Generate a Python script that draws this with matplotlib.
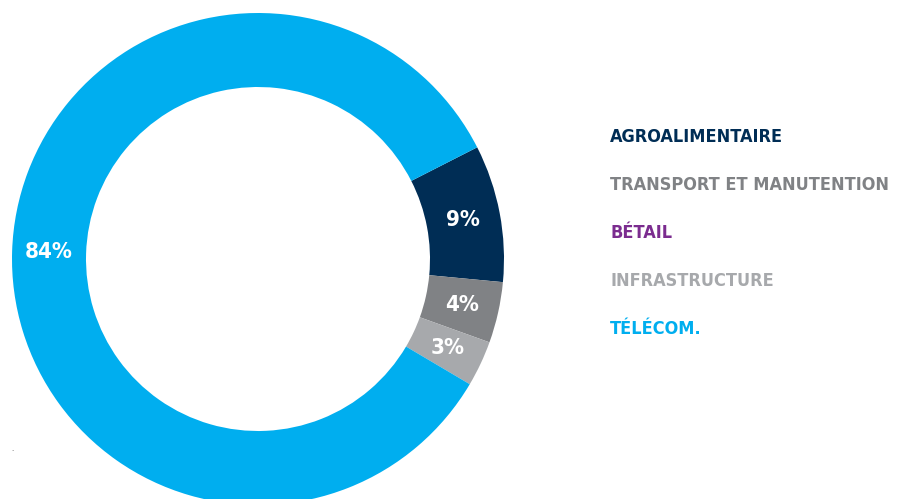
import matplotlib
matplotlib.use('Agg')
import matplotlib.pyplot as plt

# données
secteurs = ['AGROALIMENTAIRE', 'TRANSPORT ET MANUTENTION', 'BÉTAIL', 'INFRASTRUCTURE', 'TÉLÉCOM.']
parts = [9, 4, 0, 3, 84]
couleurs = ['#002d55', '#808285', '#7b2c8f', '#a7a9ac', '#00aeef']

plt.rcParams['font.family'] = ['DejaVu Sans']
plt.rcParams['font.stretch'] = 'condensed'

fig = plt.figure(figsize=(8.97, 4.99), dpi=100)
ax = fig.add_axes([0, 0, 1, 1])

# anneau
wedges, _, autotexts = ax.pie(
    parts, colors=couleurs, startangle=27, counterclock=False,
    center=(258, 240), radius=246,
    wedgeprops=dict(width=74, linewidth=0),
    autopct=lambda p: f'{p:.0f}%' if p > 0 else '',
    pctdistance=0.85,
    textprops=dict(color='white', fontsize=16, fontweight='semibold',
                   fontstretch='condensed'))

# légende en texte
for i, (nom, c) in enumerate(zip(secteurs, couleurs)):
    ax.text(610, 499 - 137 - i * 48, nom, color=c, fontsize=13,
            fontweight='bold', fontstretch='condensed', va='center', ha='left')

ax.text(12, 499 - 453, '.', color='#333333', fontsize=6, ha='center', va='bottom')

ax.set_xlim(0, 897)
ax.set_ylim(0, 499)
ax.set_aspect('equal')
ax.axis('off')

plt.savefig('out.png', dpi=100)
